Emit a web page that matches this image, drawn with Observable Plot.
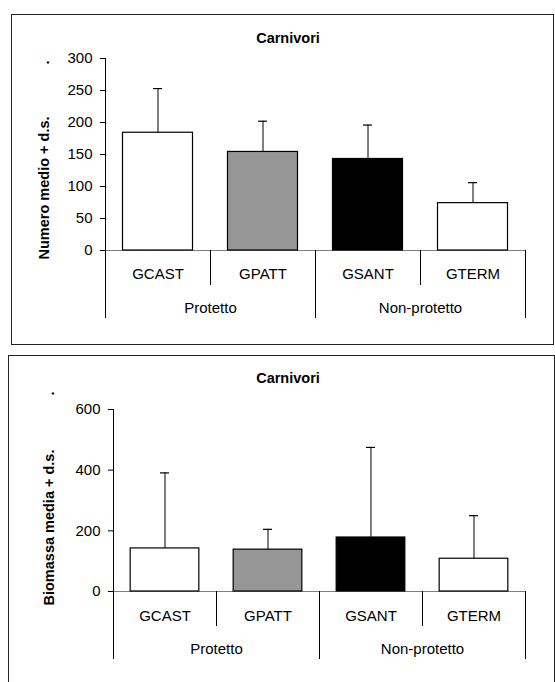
<!DOCTYPE html>
<html><head><meta charset="utf-8">
<script src="https://cdn.jsdelivr.net/npm/d3@7"></script>
<script src="https://cdn.jsdelivr.net/npm/@observablehq/plot@0.6"></script>
<style>
html,body{margin:0;padding:0;background:#fff;width:555px;height:682px;overflow:hidden;}
body{position:relative;font-family:"Liberation Sans",Arial,sans-serif;}
.chart{position:absolute;left:0;}
.panel{position:absolute;box-sizing:border-box;border:1.5px solid #222;pointer-events:none;}
</style></head><body>
<div id="c1" class="chart" style="top:0px"></div>
<div id="c2" class="chart" style="top:345px"></div>
<div class="panel" style="left:11px;top:14px;width:543px;height:331px"></div>
<div class="panel" style="left:8px;top:355px;width:547px;height:360px"></div>
<script>
// ---- data ----
const categories = ["GCAST", "GPATT", "GSANT", "GTERM"];
const groups = ["Protetto", "Protetto", "Non-protetto", "Non-protetto"];
const chartTitle = "Carnivori";
const numeroMean = [184, 154, 143, 74];
const numeroSD = [69, 48, 53, 32];
const numeroTicks = [0, 50, 100, 150, 200, 250, 300];
const biomassaMean = [142, 138, 178, 108];
const biomassaSD = [249, 67, 297, 142];
const biomassaTicks = [0, 200, 400, 600];
const numeroLabel = "Numero medio + d.s.";
const biomassaLabel = "Biomassa media + d.s.";
// ---- style ----
const barColors = ["#ffffff", "#969696", "#000000", "#ffffff"];
const FONT = "Liberation Sans, Arial, sans-serif";

function panel(o) {
  const width = 555, marginRight = 30;
  const n = categories.length;
  const step = (width - o.marginLeft - marginRight) / n;
  const pInner = 1 / 3;
  const bw = step * (1 - pInner);
  const capW = 9;
  const rows = categories.map((c, i) => ({cat: c, group: groups[i], mean: o.means[i], upper: o.means[i] + o.sds[i]}));
  const groupStarts = rows.filter((d, i) => i === 0 || groups[i] !== groups[i - 1]);
  const inner = rows.filter((d, i) => i > 0 && groups[i] === groups[i - 1]);
  const y0 = o.domain[0];
  return Plot.plot({
    width, height: o.height,
    marginLeft: o.marginLeft, marginRight, marginTop: o.marginTop, marginBottom: o.marginBottom,
    style: {fontFamily: FONT, fontSize: "15px", color: "#000", background: "transparent", overflow: "visible"},
    x: {domain: categories, paddingInner: pInner, paddingOuter: pInner / 2, round: false, axis: null},
    y: {domain: o.domain, axis: null},
    color: {domain: categories, range: barColors},
    marks: [
      Plot.ruleY([y0], {stroke: "#808080", strokeWidth: 1.2}),
      Plot.barY(rows, {x: "cat", y: "mean", fill: "cat", stroke: "#000", strokeWidth: 1.2}),
      Plot.ruleX(rows, {x: "cat", y1: "mean", y2: "upper", stroke: "#000", strokeWidth: 1}),
      Plot.tickY(rows, {x: "cat", y: "upper", stroke: "#000", strokeWidth: 1.2, insetLeft: (bw - capW) / 2, insetRight: (bw - capW) / 2}),
      // y axis line
      Plot.ruleX([categories[0]], {x: d => d, y1: o.domain[0], y2: o.domain[1], dx: -step / 2, stroke: "#000", strokeWidth: 1}),
      Plot.axisY({ticks: o.ticks, tickSize: 5, tickPadding: 8, label: null, fontSize: 15, strokeWidth: 1}),
      // category separators
      Plot.ruleX(inner, {x: "cat", y1: () => y0, y2: () => y0, dx: -step / 2, insetBottom: -35, stroke: "#000"}),
      // group separators
      Plot.ruleX(groupStarts, {x: "cat", y1: () => y0, y2: () => y0, dx: -step / 2, insetBottom: -68, stroke: "#000"}),
      Plot.ruleX([rows[n - 1]], {x: "cat", y1: () => y0, y2: () => y0, dx: step / 2, insetBottom: -68, stroke: "#000"}),
      // category labels
      Plot.text(rows, {x: "cat", y: () => y0, text: "cat", lineAnchor: "bottom", dy: o.catDy, fontSize: 15}),
      // group labels
      Plot.text(groupStarts, {x: "cat", y: () => y0, text: "group", lineAnchor: "bottom", dx: step / 2, dy: o.grpDy, fontSize: 15}),
      // title
      Plot.text([chartTitle], {frameAnchor: "top", text: d => d, lineAnchor: "bottom", dx: o.titleDx, dy: o.titleDy, fontSize: 14.5, fontWeight: "bold"}),
      // y label
      Plot.text([o.label], {frameAnchor: "bottom-left", text: d => d, rotate: -90, textAnchor: "start", lineAnchor: "bottom", dx: o.labDx, dy: o.labDy, fontSize: 14.5, fontWeight: "bold"}),
      Plot.text(["."], {frameAnchor: "top-left", text: d => d, rotate: -90, textAnchor: "start", lineAnchor: "bottom", dx: o.labDx, dy: o.dotDy, fontSize: 14.5, fontWeight: "bold"})
    ]
  });
}

document.getElementById("c1").append(panel({
  means: numeroMean, sds: numeroSD, domain: [0, 300], ticks: numeroTicks, label: numeroLabel,
  height: 345, marginLeft: 105, marginTop: 58, marginBottom: 95,
  catDy: 28, grpDy: 62, titleDx: -27.5, titleDy: -16, labDx: -57, labDy: 9, dotDy: 6
}));
document.getElementById("c2").append(panel({
  means: biomassaMean, sds: biomassaSD, domain: [0, 600], ticks: biomassaTicks, label: biomassaLabel,
  height: 337, marginLeft: 113, marginTop: 64, marginBottom: 91,
  catDy: 29, grpDy: 62, titleDx: -31.5, titleDy: -27, labDx: -60, labDy: 14, dotDy: -14
}));
</script>
</body></html>
